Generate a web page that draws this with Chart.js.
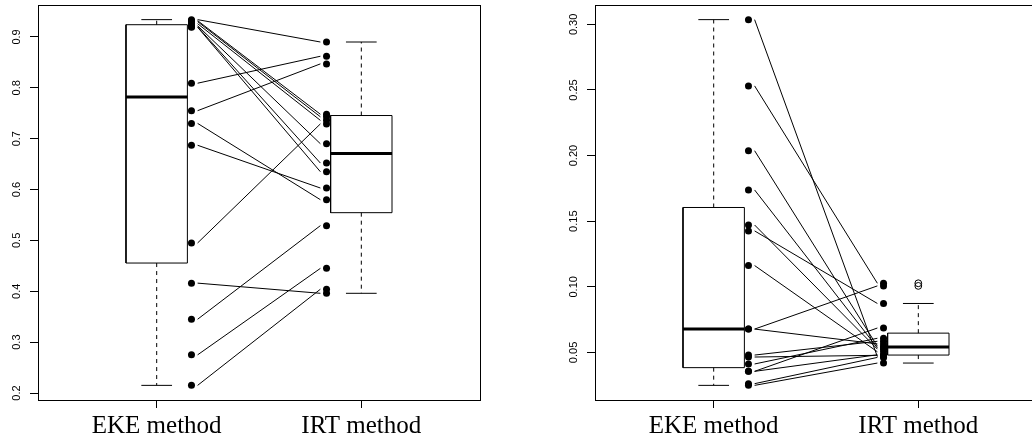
<!DOCTYPE html>
<html>
<head>
<meta charset="utf-8">
<script src="https://cdn.jsdelivr.net/npm/chart.js@4.4.0/dist/chart.umd.min.js"></script>
<style>
  html, body { margin: 0; padding: 0; background: #fff; overflow: hidden; }
  #wrap { position: relative; width: 1032px; height: 439px; overflow: hidden; }
  #left { position: absolute; left: 0; top: 0; }
  #right { position: absolute; left: 516px; top: 0; }
</style>
</head>
<body>
<div id="wrap">
  <canvas id="left" width="516" height="439"></canvas>
  <canvas id="right" width="530" height="439"></canvas>
</div>
<script>
const groups = ['EKE method', 'IRT method'];

// left panel, paired values (same index = same item)
const ekeA = [0.934, 0.932, 0.930, 0.926, 0.922, 0.920, 0.919, 0.809, 0.755, 0.730, 0.687, 0.495, 0.416, 0.345, 0.275, 0.215];
const irtA = [0.890, 0.748, 0.743, 0.736, 0.690, 0.652, 0.635, 0.862, 0.847, 0.580, 0.603, 0.729, 0.396, 0.529, 0.445, 0.404];
const yTicksA = [0.2, 0.3, 0.4, 0.5, 0.6, 0.7, 0.8, 0.9];
const yLabelsA = ['0.2', '0.3', '0.4', '0.5', '0.6', '0.7', '0.8', '0.9'];

// right panel
const ekeB = [0.3036, 0.2531, 0.2037, 0.1738, 0.1471, 0.1426, 0.1162, 0.0678, 0.0678, 0.0480, 0.0465, 0.0412, 0.0356, 0.0356, 0.0262, 0.0249];
const irtB = [0.0468, 0.1027, 0.0547, 0.0535, 0.0525, 0.0873, 0.0505, 0.1007, 0.0565, 0.0585, 0.0478, 0.0608, 0.0686, 0.0482, 0.0462, 0.0419];
const yTicksB = [0.05, 0.10, 0.15, 0.20, 0.25, 0.30];
const yLabelsB = ['0.05', '0.10', '0.15', '0.20', '0.25', '0.30'];

// R style boxplot stats (Tukey hinges, 1.5 IQR whiskers)
function boxStats(vals) {
  const x = vals.slice().sort((a, b) => a - b);
  const n = x.length;
  const n4 = Math.floor((n + 3) / 2) / 2;
  const d = [1, n4, (n + 1) / 2, n + 1 - n4, n];
  const f = d.map(v => 0.5 * (x[Math.floor(v) - 1] + x[Math.ceil(v) - 1]));
  const iqr = f[3] - f[1];
  const inside = x.filter(v => v >= f[1] - 1.5 * iqr && v <= f[3] + 1.5 * iqr);
  const out = x.filter(v => v < f[1] - 1.5 * iqr || v > f[3] + 1.5 * iqr);
  return { lo: inside[0], q1: f[1], med: f[2], q3: f[3], hi: inside[inside.length - 1], out: out };
}

const seg = (data, extra) => Object.assign({
  data: data, showLine: true, pointRadius: 0, borderColor: '#000', borderWidth: 1, order: 2
}, extra || {});

function boxDatasets(vals, x) {
  const s = boxStats(vals);
  const w = 0.15, c = 0.075;
  return [
    seg([{x: x - w, y: s.q1}, {x: x + w, y: s.q1}, {x: x + w, y: s.q3}, {x: x - w, y: s.q3}, {x: x - w, y: s.q1}]),
    seg([{x: x - w, y: s.med}, {x: x + w, y: s.med}], { borderWidth: 3 }),
    seg([{x: x, y: s.q3}, {x: x, y: s.hi}], { borderDash: [4, 4] }),
    seg([{x: x, y: s.q1}, {x: x, y: s.lo}], { borderDash: [4, 4] }),
    seg([{x: x - c, y: s.hi}, {x: x + c, y: s.hi}]),
    seg([{x: x - c, y: s.lo}, {x: x + c, y: s.lo}]),
    {
      data: s.out.map(v => ({x: x, y: v})), showLine: false, pointRadius: 3.4,
      pointStyle: 'circle', backgroundColor: 'rgba(0,0,0,0)', borderColor: '#000', borderWidth: 1, order: 2
    }
  ];
}

const framePlugin = {
  id: 'frame',
  afterDraw(chart) {
    const ctx = chart.ctx, a = chart.chartArea;
    const ys = chart.scales.y;
    const opts = chart.options.plugins.frame;
    ctx.save();
    ctx.strokeStyle = '#000';
    ctx.lineWidth = 1;
    ctx.strokeRect(a.left + 0.5, a.top + 0.5, a.right - a.left, a.bottom - a.top);
    ctx.fillStyle = '#000';
    ctx.font = '11px "Liberation Sans", Arial, sans-serif';
    ctx.textAlign = 'center';
    ctx.textBaseline = 'alphabetic';
    opts.ticks.forEach((v, i) => {
      ctx.save();
      ctx.translate(a.left - 18, ys.getPixelForValue(v));
      ctx.rotate(-Math.PI / 2);
      ctx.fillText(opts.labels[i], 0, 0);
      ctx.restore();
    });
    ctx.restore();
  }
};

function makeChart(id, eke, irt, yTicks, yLabels, yAxisWidth, padRight) {
  const all = eke.concat(irt);
  const lo = Math.min(...all), hi = Math.max(...all);
  const span = hi - lo;
  const datasets = [];
  datasets.push({
    data: eke.map(v => ({x: 1.17, y: v})).concat(irt.map(v => ({x: 1.83, y: v}))),
    showLine: false, pointRadius: 3.5, backgroundColor: '#000', borderWidth: 0, order: 0
  });
  eke.forEach((v, i) => datasets.push(seg([{x: 1.2, y: v}, {x: 1.8, y: irt[i]}], { order: 1 })));
  boxDatasets(eke, 1).forEach(d => datasets.push(d));
  boxDatasets(irt, 2).forEach(d => datasets.push(d));

  return new Chart(document.getElementById(id).getContext('2d'), {
    type: 'scatter',
    data: { datasets: datasets },
    options: {
      responsive: false,
      animation: false,
      events: [],
      layout: { padding: { left: 0, top: 5, right: padRight, bottom: 0 } },
      plugins: {
        legend: { display: false },
        tooltip: { enabled: false },
        frame: { ticks: yTicks, labels: yLabels }
      },
      scales: {
        x: {
          type: 'linear', min: 0.42, max: 2.58, bounds: 'data',
          afterBuildTicks: s => { s.ticks = [{value: 1}, {value: 2}]; },
          afterFit: s => { s.height = 39; },
          ticks: {
            autoSkip: false, maxRotation: 0, color: '#000', padding: 3,
            font: { family: '"Liberation Serif", "Times New Roman", serif', size: 25 },
            callback: v => groups[v - 1]
          },
          grid: { drawOnChartArea: false, tickLength: 8, color: '#000' },
          border: { display: false }
        },
        y: {
          type: 'linear', min: lo - 0.04 * span, max: hi + 0.04 * span, bounds: 'data',
          afterBuildTicks: s => { s.ticks = yTicks.map(v => ({value: v})); },
          afterFit: s => { s.width = yAxisWidth; },
          ticks: { display: false },
          grid: { drawOnChartArea: false, tickLength: 8, color: '#000' },
          border: { display: false }
        }
      }
    },
    plugins: [framePlugin]
  });
}

makeChart('left', ekeA, irtA, yTicksA, yLabelsA, 38, 36);
makeChart('right', ekeB, irtB, yTicksB, yLabelsB, 79, 9);
</script>
</body>
</html>
